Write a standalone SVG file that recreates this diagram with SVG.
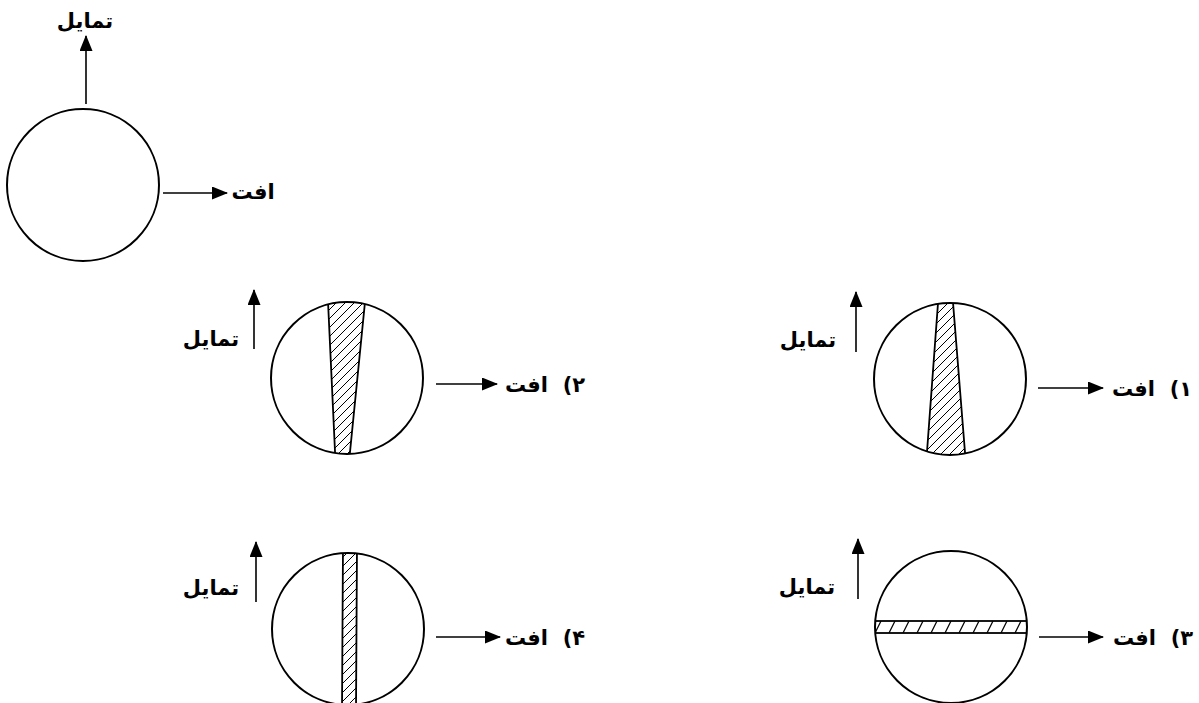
<svg xmlns="http://www.w3.org/2000/svg" width="1199" height="703" viewBox="0 0 1199 703">
<style>
.c{fill:none;stroke:#000;stroke-width:2}
.a{stroke:#000;stroke-width:1.6;fill:none}
.t{font-family:"DejaVu Sans",sans-serif;font-weight:bold;font-size:21px;fill:#000}
.h{fill:url(#hatch);stroke:#000;stroke-width:1.8}
.h2{fill:url(#hatch2);stroke:#000;stroke-width:1.8}
</style>
<defs>
<marker id="ah" markerUnits="userSpaceOnUse" markerWidth="16" markerHeight="13" refX="15" refY="6.5" orient="auto">
<path d="M0,0 L16,6.5 L0,13 z" fill="#000"/>
</marker>
<pattern id="hatch" patternUnits="userSpaceOnUse" width="9" height="9">
<path d="M-2,2 L2,-2 M0,9 L9,0 M7,11 L11,7" stroke="#000" stroke-width="1"/>
</pattern>
<pattern id="hatch2" patternUnits="userSpaceOnUse" x="872" y="621" width="14" height="12">
<path d="M3,12 L9,0" stroke="#000" stroke-width="1.2"/>
</pattern>
<clipPath id="k2"><circle cx="347" cy="378" r="76"/></clipPath>
<clipPath id="k1"><circle cx="950" cy="379" r="76"/></clipPath>
<clipPath id="k4"><circle cx="348" cy="629" r="76"/></clipPath>
<clipPath id="k3"><circle cx="951" cy="627" r="76"/></clipPath>
</defs>

<g id="connectors">
<line class="a" x1="86" y1="104" x2="86" y2="36" marker-end="url(#ah)"/>
<line class="a" x1="163" y1="193" x2="227" y2="193" marker-end="url(#ah)"/>
<line class="a" x1="254" y1="349" x2="254" y2="290" marker-end="url(#ah)"/>
<line class="a" x1="436" y1="384" x2="497" y2="384" marker-end="url(#ah)"/>
<line class="a" x1="856" y1="352" x2="856" y2="292" marker-end="url(#ah)"/>
<line class="a" x1="1038" y1="388" x2="1103" y2="388" marker-end="url(#ah)"/>
<line class="a" x1="256" y1="602" x2="256" y2="542" marker-end="url(#ah)"/>
<line class="a" x1="436" y1="637" x2="500" y2="637" marker-end="url(#ah)"/>
<line class="a" x1="858" y1="599" x2="858" y2="539" marker-end="url(#ah)"/>
<line class="a" x1="1039" y1="637" x2="1103" y2="637" marker-end="url(#ah)"/>
</g>

<g id="ref">
<circle class="c" cx="83" cy="185" r="76"/>
<text class="t" x="85" y="28" text-anchor="middle" direction="rtl">تمایل</text>
<text class="t" x="253" y="199" text-anchor="middle" direction="rtl">افت</text>
</g>

<g id="opt2">
<polygon class="h" clip-path="url(#k2)" points="327.7,295 365.7,295 349.2,460 335.4,460"/>
<circle class="c" cx="347" cy="378" r="76"/>
<text class="t" x="211" y="346" text-anchor="middle" direction="rtl">تمایل</text>
<text class="t" x="545" y="392" text-anchor="middle" direction="rtl">۲)&#160;&#160;افت</text>
</g>

<g id="opt1">
<polygon class="h" clip-path="url(#k1)" points="938.6,295 952.4,295 965.6,460 926.4,460"/>
<circle class="c" cx="950" cy="379" r="76"/>
<text class="t" x="808" y="347" text-anchor="middle" direction="rtl">تمایل</text>
<text class="t" x="1152" y="396" text-anchor="middle" direction="rtl">۱)&#160;&#160;افت</text>
</g>

<g id="opt4">
<polygon class="h" clip-path="url(#k4)" points="343,545 357,545 356,710 342,710"/>
<circle class="c" cx="348" cy="629" r="76"/>
<text class="t" x="211" y="595" text-anchor="middle" direction="rtl">تمایل</text>
<text class="t" x="545" y="645" text-anchor="middle" direction="rtl">۴)&#160;&#160;افت</text>
</g>

<g id="opt3">
<rect class="h2" clip-path="url(#k3)" x="868" y="621" width="166" height="12"/>
<circle class="c" cx="951" cy="627" r="76"/>
<text class="t" x="807" y="594" text-anchor="middle" direction="rtl">تمایل</text>
<text class="t" x="1153" y="645" text-anchor="middle" direction="rtl">۳)&#160;&#160;افت</text>
</g>
</svg>
